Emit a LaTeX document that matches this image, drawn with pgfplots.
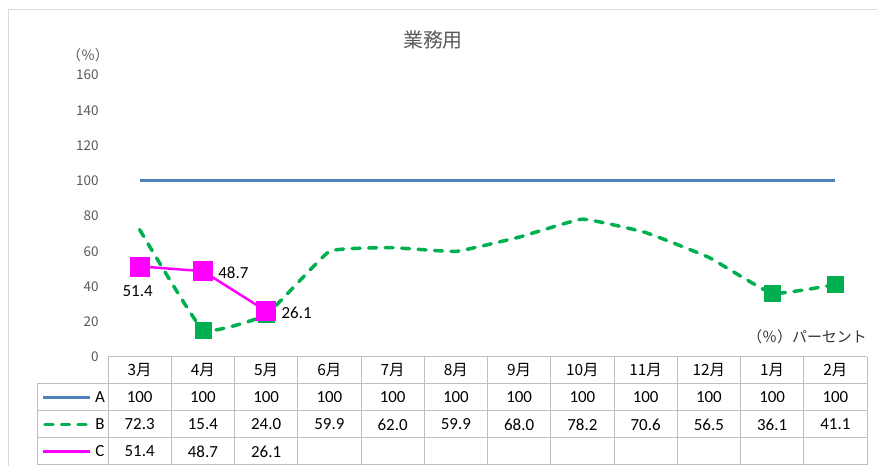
\documentclass[border=0pt]{standalone}
\usepackage{pgfplots}
\pgfplotsset{compat=1.18}
\usepackage{pgfplotstable}
\usepackage{fontspec}
\setmainfont{Carlito}
\newfontfamily\jp{Noto Sans CJK JP}
\definecolor{cA}{HTML}{4F81BD}
\definecolor{cB}{HTML}{00B050}
\definecolor{cC}{HTML}{FF00FF}
\definecolor{tickc}{HTML}{595959}
\definecolor{gridc}{HTML}{BFBFBF}
\definecolor{framec}{HTML}{D9D9D9}

\pgfplotstableread{
x A B
0 100 72.3
1 100 15.4
2 100 24.0
3 100 59.9
4 100 62.0
5 100 59.9
6 100 68.0
7 100 78.2
8 100 70.6
9 100 56.5
10 100 36.1
11 100 41.1
}\dataAB
\pgfplotstableread{
x C
0 51.4
1 48.7
2 26.1
}\dataC

\begin{document}
\begin{tikzpicture}[x=1bp,y=1bp]
\useasboundingbox (0,0) rectangle (877,466);
\draw[framec, line width=1bp] (8,0) -- (8,456) -- (877,456);
\begin{axis}[
  at={(108bp,109bp)}, anchor=south west,
  scale only axis, width=759bp, height=282bp,
  xmin=-0.5, xmax=11.5, ymin=0, ymax=160,
  clip=false,
  /pgf/number format/assume math mode=true,
  axis line style={draw=none},
  major tick length=0,
  ytick={0,20,...,160},
  yticklabel style={font=\jp\fontsize{13.5}{13.5}\selectfont, text=tickc, xshift=-6bp},
  xtick={0,...,11},
  xticklabels={3月,4月,5月,6月,7月,8月,9月,10月,11月,12月,1月,2月},
  xticklabel style={font=\jp\fontsize{15.5}{15.5}\selectfont, anchor=center, yshift=-13.5bp},
]
\addplot[cA, line width=3bp, mark=none] table[x=x,y=A]{\dataAB};
\addplot[cB, line width=3.5bp, line cap=round, dash pattern=on 8bp off 8.5bp, smooth, tension=0.2,
  mark=square*, mark size=8bp, mark indices={2,3,11,12},
  mark options={solid, fill=cB, draw=cB, line width=0.5bp}] table[x=x,y=B]{\dataAB};
\addplot[cC, line width=2.5bp, mark=square*, mark size=9.5bp,
  mark options={fill=cC, draw=cC, line width=0.5bp}] table[x=x,y=C]{\dataC};
% data labels
\addplot[draw=none, mark=none, restrict x to domain=0:0, point meta=y,
  nodes near coords={\pgfmathprintnumber[fixed,fixed zerofill,precision=1]{\pgfplotspointmeta}},
  every node near coord/.style={anchor=center, yshift=-25bp, xshift=-2bp, font=\fontsize{17}{17}\selectfont, text=black}]
  table[x=x,y=C]{\dataC};
\addplot[draw=none, mark=none, restrict x to domain=1:2, point meta=y,
  nodes near coords={\pgfmathprintnumber[fixed,fixed zerofill,precision=1]{\pgfplotspointmeta}},
  every node near coord/.style={anchor=west, xshift=12bp, yshift=-2bp, font=\fontsize{17}{17}\selectfont, text=black}]
  table[x=x,y=C]{\dataC};
% table values
\addplot[draw=none, mark=none, point meta=explicit,
  nodes near coords={\pgfmathprintnumber[fixed,precision=0]{\pgfplotspointmeta}},
  every node near coord/.style={anchor=center, font=\fontsize{17}{17}\selectfont, text=black}]
  table[x=x, y expr=-22.98, meta=A]{\dataAB};
\addplot[draw=none, mark=none, point meta=explicit,
  nodes near coords={\pgfmathprintnumber[fixed,fixed zerofill,precision=1]{\pgfplotspointmeta}},
  every node near coord/.style={anchor=center, font=\fontsize{17}{17}\selectfont, text=black}]
  table[x=x, y expr=-38.30, meta=B]{\dataAB};
\addplot[draw=none, mark=none, point meta=explicit,
  nodes near coords={\pgfmathprintnumber[fixed,fixed zerofill,precision=1]{\pgfplotspointmeta}},
  every node near coord/.style={anchor=center, font=\fontsize{17}{17}\selectfont, text=black}]
  table[x=x, y expr=-53.62, meta=C]{\dataC};
\end{axis}
% table grid
\foreach \i in {0,...,12} \draw[gridc, line width=1bp] ({108+63.25*\i},109) -- ({108+63.25*\i},1);
\draw[gridc, line width=1bp] (108,109) -- (867,109);
\foreach \y in {82,55,28,1} \draw[gridc, line width=1bp] (37,\y) -- (867,\y);
\draw[gridc, line width=1bp] (37,82) -- (37,1);
% legend samples
\draw[cA, line width=3bp] (43,68.5) -- (90,68.5);
\draw[cB, line width=3.5bp, line cap=round, dash pattern=on 8bp off 8.5bp] (45,41.5) -- (90,41.5);
\draw[cC, line width=2.5bp] (43,14.5) -- (90,14.5);
\node[font=\fontsize{17}{17}\selectfont] at (100,68.5) {A};
\node[font=\fontsize{17}{17}\selectfont] at (100,41.5) {B};
\node[font=\fontsize{17}{17}\selectfont] at (100,14.5) {C};
% titles
\node[font=\jp\fontsize{20}{20}\selectfont, text=tickc] at (433,426) {業務用};
\node[font=\jp\fontsize{14}{14}\selectfont, text=tickc] at (88,411) {（％）};
\node[anchor=east, font=\jp\fontsize{15}{15}\selectfont, text=black!80, inner sep=0pt] at (867,129) {（％）パーセント};
\end{tikzpicture}
\end{document}
